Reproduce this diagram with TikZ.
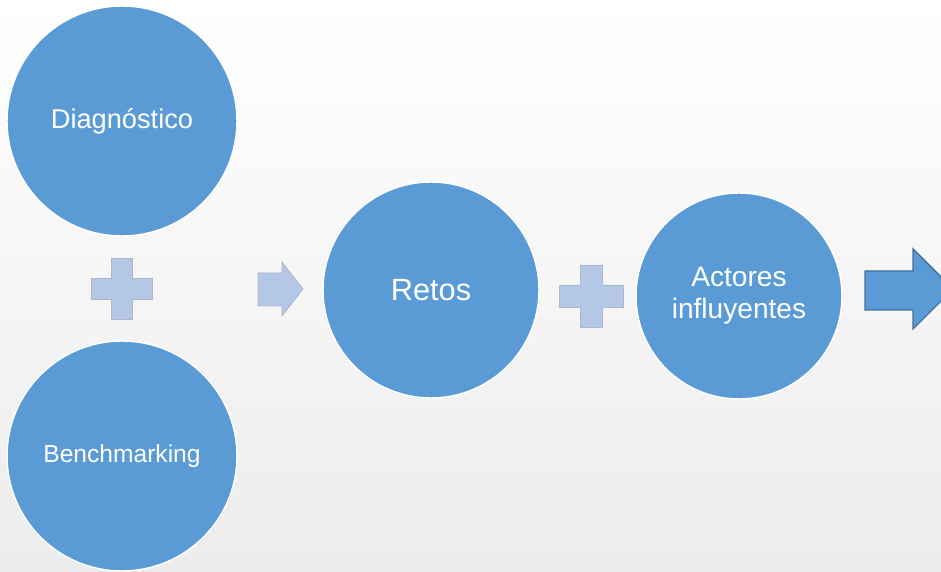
\documentclass[tikz,border=0pt]{standalone}
\usepackage{fontspec}
\setmainfont{Liberation Sans}
\usetikzlibrary{positioning}
\definecolor{stepblue}{RGB}{91,155,213}
\definecolor{stepdark}{RGB}{65,113,156}
\definecolor{plusblue}{RGB}{180,199,231}
\definecolor{plusedge}{RGB}{172,184,202}
\definecolor{bgbottom}{RGB}{236,236,236}

\begin{document}
\begin{tikzpicture}[
    x=0.02cm, y=0.02cm,
    stage/.style={circle, fill=stepblue, draw=white, line width=0.8pt, text=white, align=center, inner sep=0pt},
    plus sign/.style={fill=plusblue, draw=plusedge, line width=0.4pt},
    big arrow/.style={fill=stepblue, draw=stepdark, line width=0.8pt}
]

% Background
\useasboundingbox (0,0) rectangle (941,572);
\shade[top color=white, bottom color=bgbottom] (0,0) rectangle (941,572);

% Left column: two inputs
\node[stage, minimum size=4.6cm, font=\fontsize{15.5}{18}\selectfont] (diag) at (122,451) {Diagnóstico};
\node[stage, minimum size=4.6cm, font=\fontsize{14}{17}\selectfont] (bench) at (122,116) {Benchmarking};

% Plus between them
\draw[plus sign] (111.5,313.5) -- (132.5,313.5) -- (132.5,293.5) -- (152.5,293.5) -- (152.5,272.5)
    -- (132.5,272.5) -- (132.5,252.5) -- (111.5,252.5) -- (111.5,272.5) -- (91.5,272.5)
    -- (91.5,293.5) -- (111.5,293.5) -- cycle;

% Small arrow
\draw[plus sign] (258,299) -- (282,299) -- (282,310) -- (303,283) -- (282,256) -- (282,266)
    -- (258,266) -- cycle;

% Middle stages
\node[stage, minimum size=4.32cm, font=\fontsize{17.5}{20}\selectfont] (retos) at (431,282) {Retos};
\node[stage, minimum size=4.12cm, font=\fontsize{16}{18.2}\selectfont] (actores) at (739,276) {Actores\\influyentes};

% Plus between Retos and Actores
\draw[plus sign] (580,307) -- (602,307) -- (602,287) -- (623,287) -- (623,265)
    -- (602,265) -- (602,245) -- (580,245) -- (580,265) -- (559,265)
    -- (559,287) -- (580,287) -- cycle;

% Output arrow
\draw[big arrow] (865,301) -- (913,301) -- (913,323) -- (953,283) -- (913,243) -- (913,262)
    -- (865,262) -- cycle;

\end{tikzpicture}
\end{document}
